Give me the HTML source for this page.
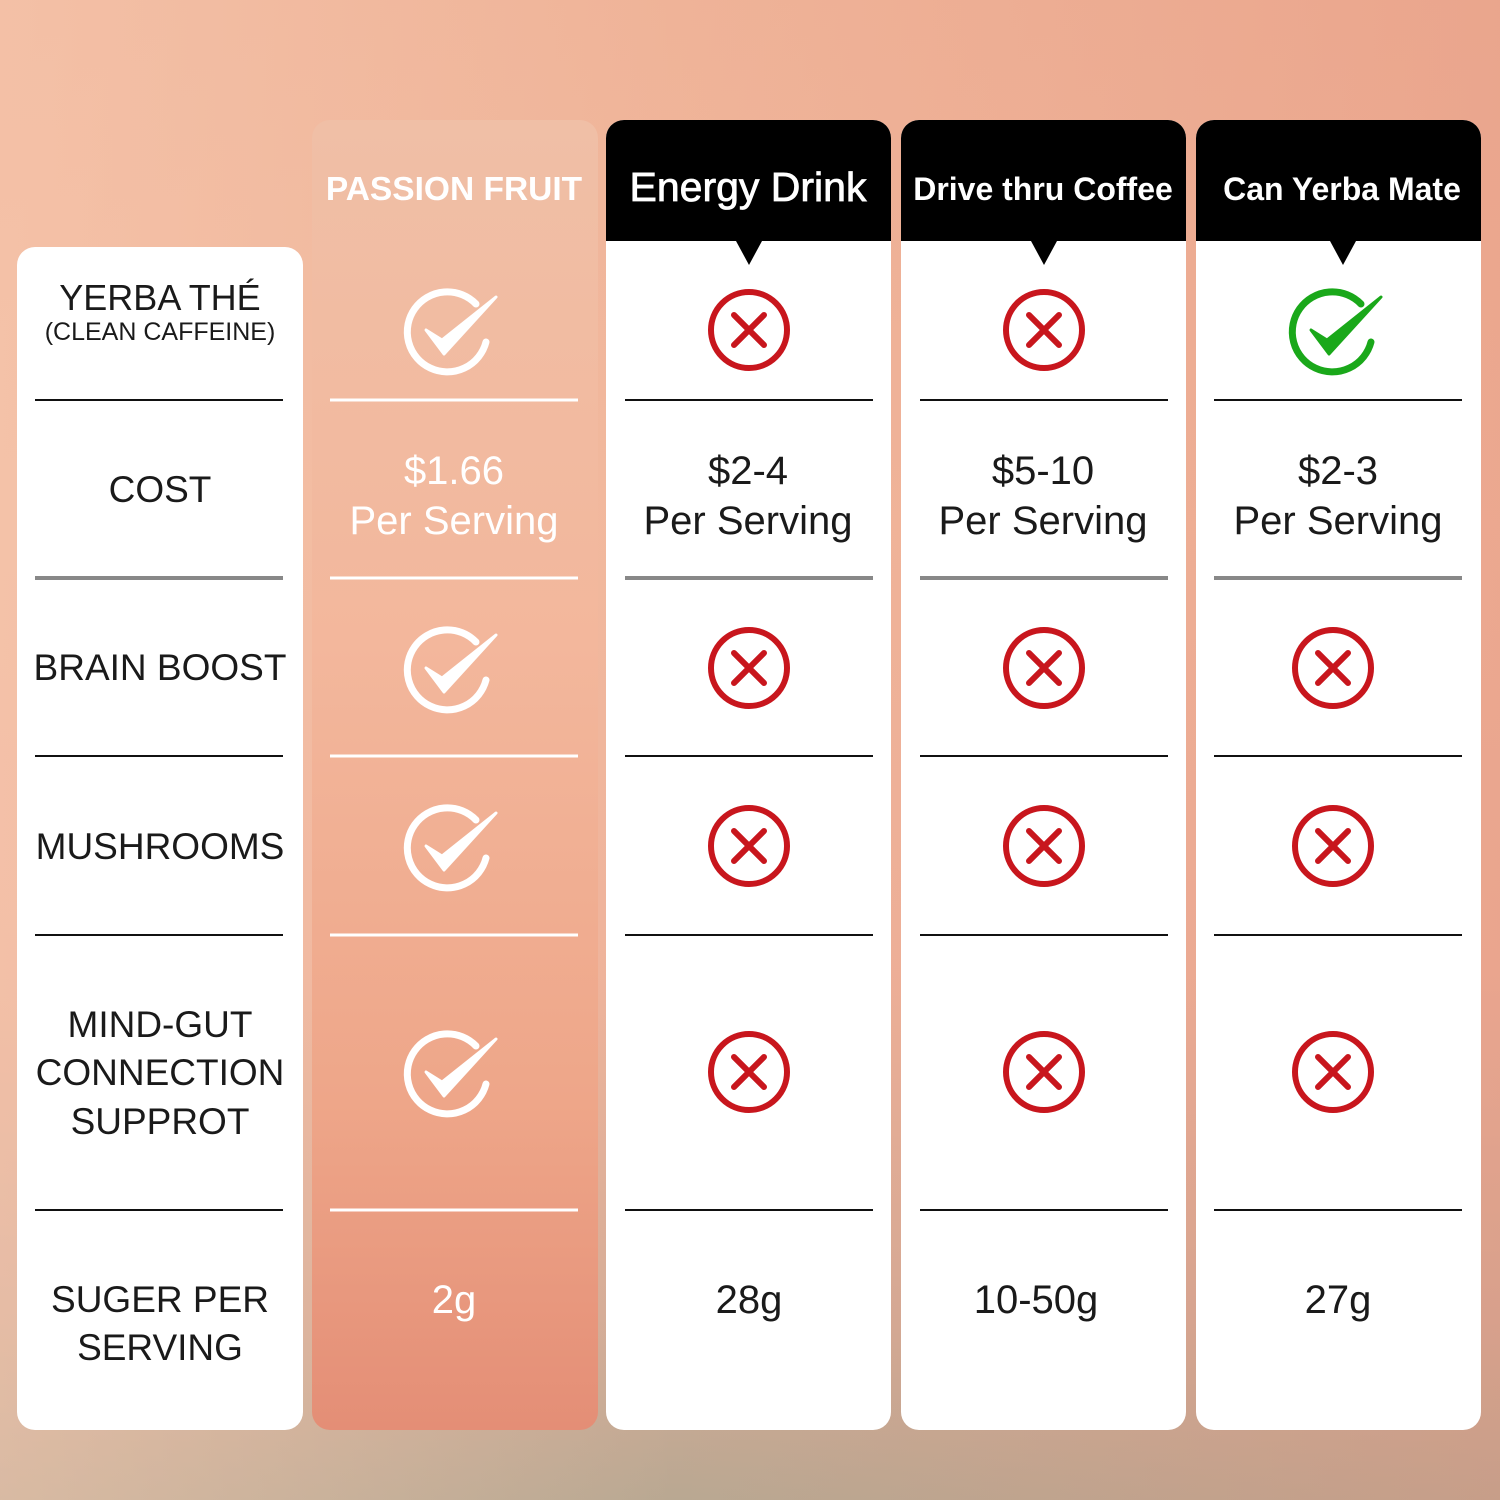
<!DOCTYPE html>
<html><head><meta charset="utf-8"><style>
html,body{margin:0;padding:0}
body{width:1500px;height:1500px;overflow:hidden;position:relative;
background:linear-gradient(180deg,#efb398 0%,#f1b79c 35%,#eeb29a 65%,#d3ab96 88%,#b9a892 100%);font-family:"Liberation Sans",sans-serif}
.bg2{position:absolute;inset:0;background:linear-gradient(90deg,rgba(248,205,180,.5),rgba(0,0,0,0) 45%,rgba(225,140,120,.35))}
.card{position:absolute;background:#fff;border-radius:18px}
.pf{position:absolute;left:312px;top:120px;width:286px;height:1310px;border-radius:18px;background:linear-gradient(180deg,#f0bfa6 0%,#f3b79c 40%,#eea689 75%,#e48e76 100%)}
.hdr{position:absolute;top:120px;height:121px;background:#000;border-radius:18px 18px 0 0}
</style></head><body>
<div class="bg2"></div>
<div class="card" style="left:17px;top:247px;width:286px;height:1183px"></div>
<div class="pf"></div>
<div class="card" style="left:606px;top:120px;width:285px;height:1310px"></div>
<div class="card" style="left:901px;top:120px;width:285px;height:1310px"></div>
<div class="card" style="left:1196px;top:120px;width:285px;height:1310px"></div>
<div class="hdr" style="left:606px;width:285px"></div>
<div class="hdr" style="left:901px;width:285px"></div>
<div class="hdr" style="left:1196px;width:285px"></div>
<svg width="1500" height="1500" style="position:absolute;left:0;top:0" font-family="Liberation Sans, sans-serif">
<defs>
<g id="x"><circle r="38" fill="none" stroke="#c8161d" stroke-width="6"/><path d="M-15,-15L15,15M15,-15L-15,15" stroke="#c8161d" stroke-width="6" stroke-linecap="round"/></g>
<g id="c"><path d="M28,-28 A40,40 0 1 0 38,10" fill="none" stroke-width="7" stroke-linecap="round"/><path d="M-22,-2 L-4,22 L48,-35 L-6,8 Z" stroke-linejoin="round" stroke-width="3"/></g>
</defs>
<g fill="#000"><path d="M736,241L749,265L762,241Z"/><path d="M1031,241L1044,265L1057,241Z"/><path d="M1330,241L1343,265L1356,241Z"/></g>
<g text-anchor="middle" fill="#fff" font-weight="bold">
<text x="454" y="200" font-size="33.5">PASSION FRUIT</text>
<text x="748" y="201" font-size="41" stroke="#fff" stroke-width="0.8" font-weight="normal">Energy Drink</text>
<text x="1043" y="200" font-size="32">Drive thru Coffee</text>
<text x="1342" y="200" font-size="32">Can Yerba Mate</text>
</g>
<g stroke="#111" stroke-width="2">
<path d="M35,400H283M625,400H873M920,400H1168M1214,400H1462"/>
<path d="M35,756H283M625,756H873M920,756H1168M1214,756H1462"/>
<path d="M35,935H283M625,935H873M920,935H1168M1214,935H1462"/>
<path d="M35,1210H283M625,1210H873M920,1210H1168M1214,1210H1462"/>
</g>
<g stroke="#888" stroke-width="4"><path d="M35,578H283M625,578H873M920,578H1168M1214,578H1462"/></g>
<g stroke="#fff" stroke-width="3"><path d="M330,400H578M330,578H578M330,756H578M330,935H578M330,1210H578"/></g>
<g fill="#fff" stroke="#fff"><use href="#c" x="448" y="332"/><use href="#c" x="448" y="670"/><use href="#c" x="448" y="848"/><use href="#c" x="448" y="1074"/></g>
<g fill="#1aa81a" stroke="#1aa81a"><use href="#c" x="1333" y="332"/></g>
<use href="#x" x="749" y="330"/><use href="#x" x="1044" y="330"/>
<use href="#x" x="749" y="668"/><use href="#x" x="1044" y="668"/><use href="#x" x="1333" y="668"/>
<use href="#x" x="749" y="846"/><use href="#x" x="1044" y="846"/><use href="#x" x="1333" y="846"/>
<use href="#x" x="749" y="1072"/><use href="#x" x="1044" y="1072"/><use href="#x" x="1333" y="1072"/>
<g text-anchor="middle" fill="#1a1a1a" font-size="37">
<text x="160" y="310" font-size="36">YERBA THÉ</text>
<text x="160" y="340" font-size="25">(CLEAN CAFFEINE)</text>
<text x="160" y="502">COST</text>
<text x="160" y="680">BRAIN BOOST</text>
<text x="160" y="859">MUSHROOMS</text>
<text x="160" y="1037">MIND-GUT</text>
<text x="160" y="1085">CONNECTION</text>
<text x="160" y="1134">SUPPROT</text>
<text x="160" y="1312">SUGER PER</text>
<text x="160" y="1360">SERVING</text>
<g font-size="40">
<text x="748" y="484">$2-4</text><text x="748" y="534">Per Serving</text>
<text x="1043" y="484">$5-10</text><text x="1043" y="534">Per Serving</text>
<text x="1338" y="484">$2-3</text><text x="1338" y="534">Per Serving</text>
<text x="749" y="1313">28g</text><text x="1036" y="1313">10-50g</text><text x="1338" y="1313">27g</text>
<g fill="#fff"><text x="454" y="484">$1.66</text><text x="454" y="534">Per Serving</text><text x="454" y="1313">2g</text></g>
</g>
</g>
</svg>
</body></html>
